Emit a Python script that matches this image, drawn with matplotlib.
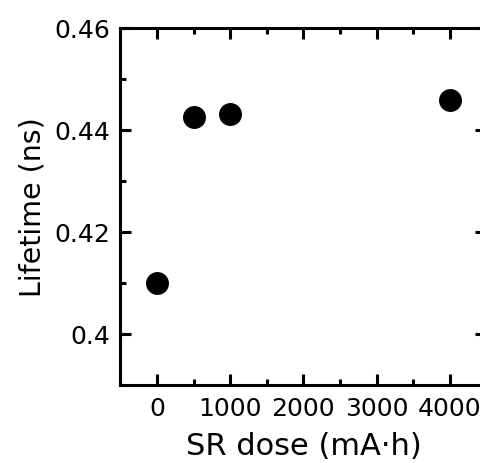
import matplotlib
matplotlib.use("Agg")
import matplotlib.pyplot as plt
from matplotlib.ticker import MultipleLocator

plt.rcParams['font.family'] = ['DejaVu Sans']

dose = [0, 500, 1000, 4000]
lifetime = [0.4099, 0.4424, 0.4431, 0.4458]

W, H = 481, 464
fig = plt.figure(figsize=(W / 100, H / 100), dpi=100)
ax = fig.add_axes([120.4 / W, (H - 386) / H, (486.4 - 120.4) / W, (386 - 28.5) / H])

ax.plot(dose, lifetime, 'o', color='black', markersize=15.5, linestyle='none')

ax.set_xlim(-500, 4500)
ax.set_ylim(0.39, 0.46)
ax.xaxis.set_major_locator(MultipleLocator(1000))
ax.xaxis.set_minor_locator(MultipleLocator(500))
ax.yaxis.set_minor_locator(MultipleLocator(0.01))
ax.set_yticks([0.40, 0.42, 0.44, 0.46])
ax.set_yticklabels(['0.4', '0.42', '0.44', '0.46'])

for s in ax.spines.values():
    s.set_linewidth(2.2)
ax.tick_params(which='both', direction='in', top=True, right=True, width=2.2, labelsize=18)
ax.tick_params(axis='x', pad=8)
ax.tick_params(axis='y', pad=7)
ax.tick_params(which='major', length=8)
ax.tick_params(which='minor', length=4.5)

ax.set_xlabel('SR dose (mA·h)', fontsize=22, labelpad=8)
ax.set_ylabel('Lifetime (ns)', fontsize=20.5, labelpad=6)

fig.savefig('out.png', dpi=100)
